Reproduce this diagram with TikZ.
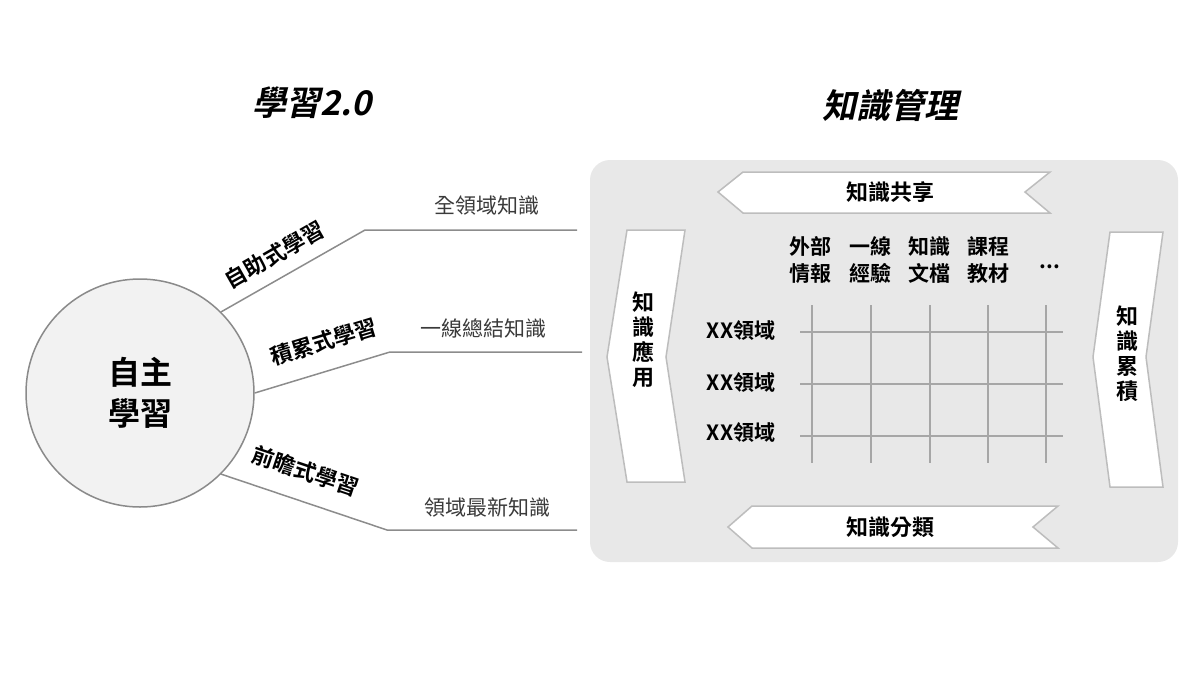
\documentclass[tikz,border=0pt]{standalone}
\usepackage{fontspec}
\setmainfont{Noto Sans CJK TC}[BoldFont={Noto Sans CJK TC Bold}]
\newfontfamily\titlefont{Noto Sans CJK TC Bold}[FakeSlant=0.22]
\usetikzlibrary{positioning}
\definecolor{panelgray}{HTML}{E8E8E8}
\definecolor{circlefill}{HTML}{F2F2F2}
\definecolor{circleline}{HTML}{8A8A8A}
\definecolor{branchgray}{HTML}{8C8C8C}
\definecolor{bandline}{HTML}{BDBDBD}
\definecolor{gridgray}{HTML}{A6A6A6}
\definecolor{knowtext}{HTML}{3A3A3A}

\begin{document}
\begin{tikzpicture}[x=0.5pt, y=-0.5pt,
  branch/.style={draw=branchgray, line width=0.75pt},
  tag/.style={font=\fontsize{11}{13}\selectfont\bfseries, inner sep=1pt, sloped},
  know/.style={font=\fontsize{10.5}{13}\selectfont, text=knowtext, inner sep=1pt},
  band/.style={draw=bandline, fill=white, line width=0.75pt},
  bandtext/.style={font=\fontsize{11}{13}\selectfont\bfseries, inner sep=1pt, align=center},
  gridline/.style={draw=gridgray, line width=1pt},
  coltext/.style={font=\fontsize{10.5}{13.5}\selectfont\bfseries, inner sep=1pt, align=center}]
\useasboundingbox (0,0) rectangle (1200,675);
\node[font=\titlefont\fontsize{17}{20}\selectfont] (learn) at (312,103) {學習2.0};
\node[font=\titlefont\fontsize{17}{20}\selectfont] (manage) at (890,105) {知識管理};
\node[circle, draw=circleline, fill=circlefill, line width=0.75pt, minimum size=114pt, inner sep=0pt, align=center, font=\fontsize{16}{20.5}\selectfont\bfseries] (self) at (140,393) {自主\\學習};
\coordinate (b1) at (365,230); \coordinate (e1) at (577,230);
\coordinate (b2) at (390,352); \coordinate (e2) at (582,352);
\coordinate (b3) at (387,530); \coordinate (e3) at (577,530);
\draw[branch] (self.45) -- node[tag, above=5pt, pos=0.45] (t1) {自助式學習} (b1) -- (e1);
\draw[branch] (self.0) -- node[tag, above=8pt, pos=0.57] (t2) {積累式學習} (b2) -- (e2);
\draw[branch] (self.-45) -- node[tag, above=8.5pt, pos=0.45] (t3) {前瞻式學習} (b3) -- (e3);
\node[know] (k1) at (487,205) {全領域知識};
\node[know] (k2) at (483,328) {一線總結知識};
\node[know] (k3) at (487,507) {領域最新知識};
\draw[draw=none, fill=panelgray, rounded corners=10pt] (590,160) rectangle (1178,562);
\draw[band] (718,192) -- (743,172) -- (1050,172) -- (1025,192) -- (1050,213) -- (743,213) -- cycle;
\node[bandtext] (share) at (890,192) {知識共享};
\draw[band] (728,527) -- (752,506) -- (1058,506) -- (1033,527) -- (1058,548) -- (752,548) -- cycle;
\node[bandtext] (sort) at (890,527) {知識分類};
\draw[band] (627,230) -- (685,230) -- (666,357) -- (685,482) -- (627,482) -- (607,357) -- cycle;
\node[bandtext, font=\fontsize{11}{12.5}\selectfont\bfseries] (apply) at (643,340) {知\\識\\應\\用};
\draw[band] (1110,232) -- (1163,232) -- (1146,357) -- (1163,487) -- (1110,487) -- (1093,357) -- cycle;
\node[bandtext, font=\fontsize{11}{12.5}\selectfont\bfseries] (gather) at (1127,354) {知\\識\\累\\積};
\foreach \y in {332,384,436} \draw[gridline] (800,\y) -- (1063,\y);
\foreach \x in {812,871,930,988,1046} \draw[gridline] (\x,305) -- (\x,463);
\foreach \y/\n in {330/r1,382/r2,432/r3} \node[coltext] (\n) at (741,\y) {XX領域};
\node[coltext] (c1) at (810,260) {外部\\情報};
\node[coltext] (c2) at (870,260) {一線\\經驗};
\node[coltext] (c3) at (929,260) {知識\\文檔};
\node[coltext] (c4) at (988,260) {課程\\教材};
\node[coltext, anchor=base] (c5) at (1050,268) {...};
\end{tikzpicture}
\end{document}
